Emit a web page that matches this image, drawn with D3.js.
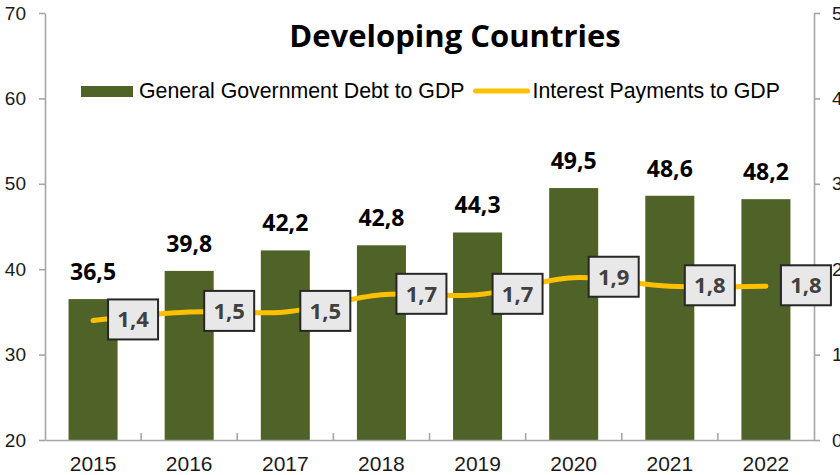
<!DOCTYPE html>
<html>
<head>
<meta charset="utf-8">
<script src="https://cdn.jsdelivr.net/npm/d3@7"></script>
<style>
  html, body { margin: 0; padding: 0; background: #fff; }
  svg { display: block; }
</style>
</head>
<body>
<svg id="chart" width="840" height="475"></svg>
<script>
// Data
const years = ["2015", "2016", "2017", "2018", "2019", "2020", "2021", "2022"];
const debtToGdp = [36.5, 39.8, 42.2, 42.8, 44.3, 49.5, 48.6, 48.2];
const interestToGdp = [1.4, 1.5, 1.5, 1.7, 1.7, 1.9, 1.8, 1.8];
const leftTicks = [20, 30, 40, 50, 60, 70];
const rightTicks = [0, 1, 2, 3, 4, 5];
const titleText = "Developing Countries";
const seriesNames = ["General Government Debt to GDP", "Interest Payments to GDP"];

const fmt = v => d3.format(".1f")(v).replace(".", ",");

const svg = d3.select("#chart");
const plot = { left: 45, right: 814, top: 13, bottom: 440 };

const x = d3.scaleBand().domain(years).range([plot.left, plot.right]).paddingInner(0.49).paddingOuter(0.245);
const band = d3.scaleBand().domain(years).range([plot.left, plot.right]);
const yL = d3.scaleLinear().domain([20, 70]).range([plot.bottom, plot.top]);
const yR = d3.scaleLinear().domain([0, 5]).range([plot.bottom, plot.top]);

const barColor = "#4F6228";
const lineColor = "#FFC000";
const axisColor = "#A6A6A6";

// Bars
svg.append("g").selectAll("rect").data(years).join("rect")
  .attr("x", d => x(d))
  .attr("width", x.bandwidth())
  .attr("y", (d, i) => yL(debtToGdp[i]))
  .attr("height", (d, i) => yL(20) - yL(debtToGdp[i]))
  .attr("fill", barColor);

// Axes
const axisStyle = g => {
  g.select(".domain").attr("stroke", axisColor).attr("stroke-width", 1.6);
  g.selectAll(".tick line").attr("stroke", axisColor).attr("stroke-width", 1.6);
  g.selectAll("text").attr("fill", "#1a1a1a").attr("font-family", "Liberation Sans, Arial, sans-serif");
};

svg.append("g").attr("transform", `translate(${plot.left},0)`)
  .call(d3.axisLeft(yL).tickValues(leftTicks).tickSize(6).tickSizeOuter(0).tickPadding(13))
  .call(axisStyle)
  .call(g => g.selectAll("text").attr("font-size", 19));

svg.append("g").attr("transform", `translate(${plot.right},0)`)
  .call(d3.axisRight(yR).tickValues(rightTicks).tickSize(6).tickSizeOuter(0).tickPadding(12))
  .call(axisStyle)
  .call(g => g.selectAll("text").attr("font-size", 19));

// Category axis: ticks at band boundaries pointing up
const xAxis = svg.append("g").attr("transform", `translate(0,${plot.bottom})`)
  .call(d3.axisBottom(band).tickSize(0).tickSizeOuter(0).tickPadding(16))
  .call(axisStyle)
  .call(g => g.selectAll("text").attr("font-size", 21));
xAxis.selectAll(".boundary").data(years.slice(1)).join("line")
  .attr("x1", d => band(d)).attr("x2", d => band(d))
  .attr("y1", 0).attr("y2", -7)
  .attr("stroke", axisColor).attr("stroke-width", 1.6);

// Bar value labels
svg.append("g").selectAll("text").data(years).join("text")
  .attr("x", d => x(d) + x.bandwidth() / 2)
  .attr("y", (d, i) => yL(debtToGdp[i]) - 19)
  .attr("text-anchor", "middle")
  .attr("font-family", "Open Sans, sans-serif")
  .attr("font-weight", 700)
  .attr("font-size", 23)
  .attr("fill", "#000")
  .text((d, i) => fmt(debtToGdp[i]));

// Interest line (smoothed)
const cx = d => band(d) + band.bandwidth() / 2;
const line = d3.line()
  .x((d, i) => cx(years[i]))
  .y(d => yR(d))
  .curve(d3.curveCardinal.tension(0));
svg.append("path").datum(interestToGdp)
  .attr("d", line)
  .attr("fill", "none")
  .attr("stroke", lineColor)
  .attr("stroke-width", 5)
  .attr("stroke-linecap", "round");

// Interest value labels, boxed, to the right of each point
const lbl = svg.append("g").selectAll("g").data(years).join("g")
  .attr("transform", (d, i) => `translate(${cx(d) + 40},${yR(interestToGdp[i]) - 1})`);
lbl.append("rect")
  .attr("x", -25).attr("y", -20).attr("width", 50).attr("height", 40)
  .attr("fill", "#E8E8E8").attr("stroke", "#262626").attr("stroke-width", 2);
lbl.append("text")
  .attr("text-anchor", "middle")
  .attr("dy", "0.36em")
  .attr("font-family", "Open Sans, sans-serif")
  .attr("font-weight", 700)
  .attr("font-size", 22)
  .attr("fill", "#404040")
  .text((d, i) => fmt(interestToGdp[i]));

// Title
svg.append("text")
  .attr("x", 455).attr("y", 47)
  .attr("text-anchor", "middle")
  .attr("font-family", "Open Sans, sans-serif")
  .attr("font-weight", 700)
  .attr("font-size", 31)
  .attr("fill", "#000")
  .text(titleText);

// Legend
const legend = svg.append("g").attr("font-family", "Liberation Sans, Arial, sans-serif").attr("font-size", 21.3).attr("fill", "#000");
legend.append("rect").attr("x", 81).attr("y", 86).attr("width", 52).attr("height", 11).attr("fill", barColor);
const t1 = legend.append("text").attr("x", 139).attr("y", 98).text(seriesNames[0]);
const t1end = 139 + t1.node().getComputedTextLength();
legend.append("line")
  .attr("x1", t1end + 11).attr("x2", t1end + 63)
  .attr("y1", 91).attr("y2", 91)
  .attr("stroke", lineColor).attr("stroke-width", 5).attr("stroke-linecap", "round");
legend.append("text").attr("x", t1end + 68).attr("y", 98).text(seriesNames[1]);
</script>
</body>
</html>
